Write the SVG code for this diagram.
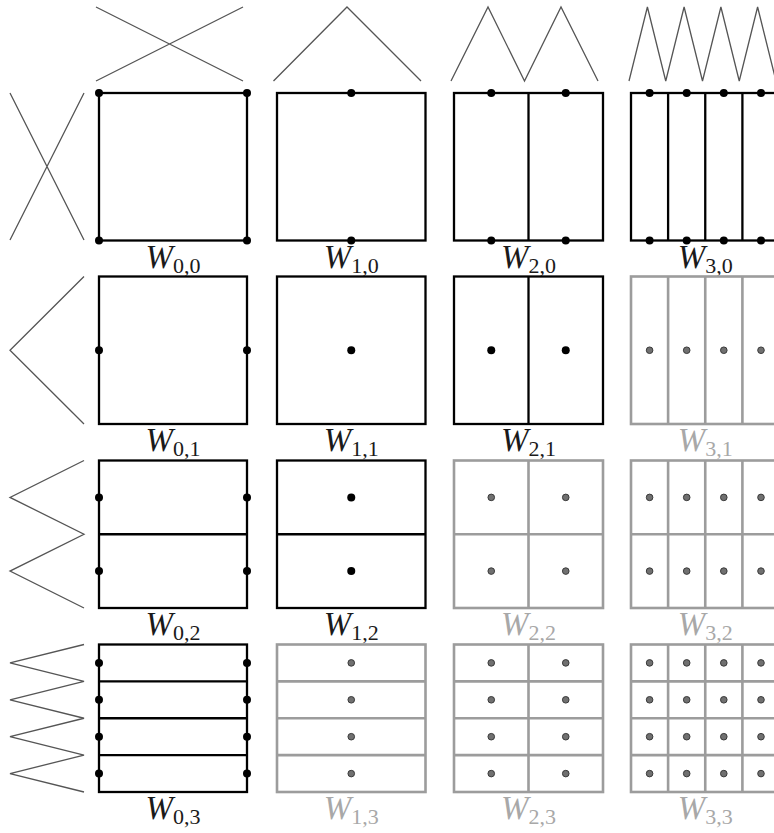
<svg xmlns="http://www.w3.org/2000/svg" width="774" height="833" viewBox="0 0 774 833">
<style>
.wave{fill:none;stroke:#555;stroke-width:1.3;stroke-linejoin:miter}
.blk{fill:none;stroke:#000;stroke-width:2.3}
.gry{fill:none;stroke:#9c9c9c;stroke-width:2.6}
.bd{fill:#000}
.gd{fill:#707070;stroke:#3a3a3a;stroke-width:1}
.lbl{font-family:"Liberation Serif","Times New Roman",serif;text-anchor:middle}
.lbl.k{fill:#1a1a1a}
.lbl.g{fill:#a8a8a8}
.w{font-style:italic;font-size:33px}
.s{font-size:22px}
</style>
<rect x="0" y="0" width="774" height="833" fill="#fff"/>
<g id="waves-top">
<path class="wave" d="M96,81 L243,7 M96,7 L243,81"/>
<path class="wave" d="M273.5,81 L347,7 L421,81"/>
<path class="wave" d="M451,81 L488,7 L524.5,81 L561,7 L598,81"/>
<path class="wave" d="M629,81 L647.4,7 L665.75,81 L684.1,7 L702.5,81 L720.9,7 L739.25,81 L757.6,7 L776,81"/>
</g>
<g id="waves-left">
<path class="wave" d="M84,93 L10,240 M10,93 L84,240"/>
<path class="wave" d="M84,276.5 L10,350.25 L84,424"/>
<path class="wave" d="M84,460.5 L10,497.4 L84,534.25 L10,571.1 L84,608"/>
<path class="wave" d="M84,644.5 L10,662.9 L84,681.4 L10,699.8 L84,718.25 L10,736.7 L84,755.1 L10,773.6 L84,792"/>
</g>
<g id="connectors"></g>
<!-- Row 0 -->
<g id="W00">
<rect class="blk" x="99" y="93" width="148" height="147.5"/>
<circle class="bd" cx="99" cy="93" r="4"/><circle class="bd" cx="247" cy="93" r="4"/>
<circle class="bd" cx="99" cy="240.5" r="4"/><circle class="bd" cx="247" cy="240.5" r="4"/>
<text class="lbl k" x="173" y="267.5"><tspan class="w">W</tspan><tspan class="s" dy="5">0,0</tspan></text>
</g>
<g id="W10">
<rect class="blk" x="277" y="93" width="148.5" height="147.5"/>
<circle class="bd" cx="351.25" cy="93" r="4"/><circle class="bd" cx="351.25" cy="240.5" r="4"/>
<text class="lbl k" x="351.25" y="267.5"><tspan class="w">W</tspan><tspan class="s" dy="5">1,0</tspan></text>
</g>
<g id="W20">
<rect class="blk" x="454" y="93" width="149" height="147.5"/>
<path class="blk" d="M528.5,93 V240.5"/>
<circle class="bd" cx="491.25" cy="93" r="4"/><circle class="bd" cx="565.75" cy="93" r="4"/>
<circle class="bd" cx="491.25" cy="240.5" r="4"/><circle class="bd" cx="565.75" cy="240.5" r="4"/>
<text class="lbl k" x="528.5" y="267.5"><tspan class="w">W</tspan><tspan class="s" dy="5">2,0</tspan></text>
</g>
<g id="W30">
<rect class="blk" x="631" y="93" width="148.5" height="147.5"/>
<path class="blk" d="M668.1,93 V240.5 M705.25,93 V240.5 M742.4,93 V240.5"/>
<circle class="bd" cx="649.6" cy="93" r="4"/><circle class="bd" cx="686.7" cy="93" r="4"/><circle class="bd" cx="723.8" cy="93" r="4"/><circle class="bd" cx="761" cy="93" r="4"/>
<circle class="bd" cx="649.6" cy="240.5" r="4"/><circle class="bd" cx="686.7" cy="240.5" r="4"/><circle class="bd" cx="723.8" cy="240.5" r="4"/><circle class="bd" cx="761" cy="240.5" r="4"/>
<text class="lbl k" x="705.25" y="267.5"><tspan class="w">W</tspan><tspan class="s" dy="5">3,0</tspan></text>
</g>
<!-- Row 1 -->
<g id="W01">
<rect class="blk" x="99" y="276.5" width="148" height="147.5"/>
<circle class="bd" cx="99" cy="350.25" r="4"/><circle class="bd" cx="247" cy="350.25" r="4"/>
<text class="lbl k" x="173" y="451"><tspan class="w">W</tspan><tspan class="s" dy="5">0,1</tspan></text>
</g>
<g id="W11">
<rect class="blk" x="277" y="276.5" width="148.5" height="147.5"/>
<circle class="bd" cx="351.25" cy="350.25" r="4"/>
<text class="lbl k" x="351.25" y="451"><tspan class="w">W</tspan><tspan class="s" dy="5">1,1</tspan></text>
</g>
<g id="W21">
<rect class="blk" x="454" y="276.5" width="149" height="147.5"/>
<path class="blk" d="M528.5,276.5 V424"/>
<circle class="bd" cx="491.25" cy="350.25" r="4"/><circle class="bd" cx="565.75" cy="350.25" r="4"/>
<text class="lbl k" x="528.5" y="451"><tspan class="w">W</tspan><tspan class="s" dy="5">2,1</tspan></text>
</g>
<g id="W31">
<rect class="gry" x="631" y="276.5" width="148.5" height="147.5"/>
<path class="gry" d="M668.1,276.5 V424 M705.25,276.5 V424 M742.4,276.5 V424"/>
<circle class="gd" cx="649.6" cy="350.25" r="3.3"/><circle class="gd" cx="686.7" cy="350.25" r="3.3"/><circle class="gd" cx="723.8" cy="350.25" r="3.3"/><circle class="gd" cx="761" cy="350.25" r="3.3"/>
<text class="lbl g" x="705.25" y="451"><tspan class="w">W</tspan><tspan class="s" dy="5">3,1</tspan></text>
</g>
<!-- Row 2 -->
<g id="W02">
<rect class="blk" x="99" y="460.5" width="148" height="147.5"/>
<path class="blk" d="M99,534.25 H247"/>
<circle class="bd" cx="99" cy="497.4" r="4"/><circle class="bd" cx="247" cy="497.4" r="4"/>
<circle class="bd" cx="99" cy="571.1" r="4"/><circle class="bd" cx="247" cy="571.1" r="4"/>
<text class="lbl k" x="173" y="635"><tspan class="w">W</tspan><tspan class="s" dy="5">0,2</tspan></text>
</g>
<g id="W12">
<rect class="blk" x="277" y="460.5" width="148.5" height="147.5"/>
<path class="blk" d="M277,534.25 H425.5"/>
<circle class="bd" cx="351.25" cy="497.4" r="4"/><circle class="bd" cx="351.25" cy="571.1" r="4"/>
<text class="lbl k" x="351.25" y="635"><tspan class="w">W</tspan><tspan class="s" dy="5">1,2</tspan></text>
</g>
<g id="W22">
<rect class="gry" x="454" y="460.5" width="149" height="147.5"/>
<path class="gry" d="M528.5,460.5 V608 M454,534.25 H603"/>
<circle class="gd" cx="491.25" cy="497.4" r="3.3"/><circle class="gd" cx="565.75" cy="497.4" r="3.3"/>
<circle class="gd" cx="491.25" cy="571.1" r="3.3"/><circle class="gd" cx="565.75" cy="571.1" r="3.3"/>
<text class="lbl g" x="528.5" y="635"><tspan class="w">W</tspan><tspan class="s" dy="5">2,2</tspan></text>
</g>
<g id="W32">
<rect class="gry" x="631" y="460.5" width="148.5" height="147.5"/>
<path class="gry" d="M668.1,460.5 V608 M705.25,460.5 V608 M742.4,460.5 V608 M631,534.25 H779.5"/>
<circle class="gd" cx="649.6" cy="497.4" r="3.3"/><circle class="gd" cx="686.7" cy="497.4" r="3.3"/><circle class="gd" cx="723.8" cy="497.4" r="3.3"/><circle class="gd" cx="761" cy="497.4" r="3.3"/>
<circle class="gd" cx="649.6" cy="571.1" r="3.3"/><circle class="gd" cx="686.7" cy="571.1" r="3.3"/><circle class="gd" cx="723.8" cy="571.1" r="3.3"/><circle class="gd" cx="761" cy="571.1" r="3.3"/>
<text class="lbl g" x="705.25" y="635"><tspan class="w">W</tspan><tspan class="s" dy="5">3,2</tspan></text>
</g>
<!-- Row 3 -->
<g id="W03">
<rect class="blk" x="99" y="644.5" width="148" height="147.5"/>
<path class="blk" d="M99,681.4 H247 M99,718.25 H247 M99,755.1 H247"/>
<circle class="bd" cx="99" cy="662.9" r="4"/><circle class="bd" cx="247" cy="662.9" r="4"/>
<circle class="bd" cx="99" cy="699.8" r="4"/><circle class="bd" cx="247" cy="699.8" r="4"/>
<circle class="bd" cx="99" cy="736.7" r="4"/><circle class="bd" cx="247" cy="736.7" r="4"/>
<circle class="bd" cx="99" cy="773.6" r="4"/><circle class="bd" cx="247" cy="773.6" r="4"/>
<text class="lbl k" x="173" y="819"><tspan class="w">W</tspan><tspan class="s" dy="5">0,3</tspan></text>
</g>
<g id="W13">
<rect class="gry" x="277" y="644.5" width="148.5" height="147.5"/>
<path class="gry" d="M277,681.4 H425.5 M277,718.25 H425.5 M277,755.1 H425.5"/>
<circle class="gd" cx="351.25" cy="662.9" r="3.3"/><circle class="gd" cx="351.25" cy="699.8" r="3.3"/>
<circle class="gd" cx="351.25" cy="736.7" r="3.3"/><circle class="gd" cx="351.25" cy="773.6" r="3.3"/>
<text class="lbl g" x="351.25" y="819"><tspan class="w">W</tspan><tspan class="s" dy="5">1,3</tspan></text>
</g>
<g id="W23">
<rect class="gry" x="454" y="644.5" width="149" height="147.5"/>
<path class="gry" d="M528.5,644.5 V792 M454,681.4 H603 M454,718.25 H603 M454,755.1 H603"/>
<circle class="gd" cx="491.25" cy="662.9" r="3.3"/><circle class="gd" cx="565.75" cy="662.9" r="3.3"/>
<circle class="gd" cx="491.25" cy="699.8" r="3.3"/><circle class="gd" cx="565.75" cy="699.8" r="3.3"/>
<circle class="gd" cx="491.25" cy="736.7" r="3.3"/><circle class="gd" cx="565.75" cy="736.7" r="3.3"/>
<circle class="gd" cx="491.25" cy="773.6" r="3.3"/><circle class="gd" cx="565.75" cy="773.6" r="3.3"/>
<text class="lbl g" x="528.5" y="819"><tspan class="w">W</tspan><tspan class="s" dy="5">2,3</tspan></text>
</g>
<g id="W33">
<rect class="gry" x="631" y="644.5" width="148.5" height="147.5"/>
<path class="gry" d="M668.1,644.5 V792 M705.25,644.5 V792 M742.4,644.5 V792 M631,681.4 H779.5 M631,718.25 H779.5 M631,755.1 H779.5"/>
<circle class="gd" cx="649.6" cy="662.9" r="3.3"/><circle class="gd" cx="686.7" cy="662.9" r="3.3"/><circle class="gd" cx="723.8" cy="662.9" r="3.3"/><circle class="gd" cx="761" cy="662.9" r="3.3"/>
<circle class="gd" cx="649.6" cy="699.8" r="3.3"/><circle class="gd" cx="686.7" cy="699.8" r="3.3"/><circle class="gd" cx="723.8" cy="699.8" r="3.3"/><circle class="gd" cx="761" cy="699.8" r="3.3"/>
<circle class="gd" cx="649.6" cy="736.7" r="3.3"/><circle class="gd" cx="686.7" cy="736.7" r="3.3"/><circle class="gd" cx="723.8" cy="736.7" r="3.3"/><circle class="gd" cx="761" cy="736.7" r="3.3"/>
<circle class="gd" cx="649.6" cy="773.6" r="3.3"/><circle class="gd" cx="686.7" cy="773.6" r="3.3"/><circle class="gd" cx="723.8" cy="773.6" r="3.3"/><circle class="gd" cx="761" cy="773.6" r="3.3"/>
<text class="lbl g" x="705.25" y="819"><tspan class="w">W</tspan><tspan class="s" dy="5">3,3</tspan></text>
</g>
</svg>
